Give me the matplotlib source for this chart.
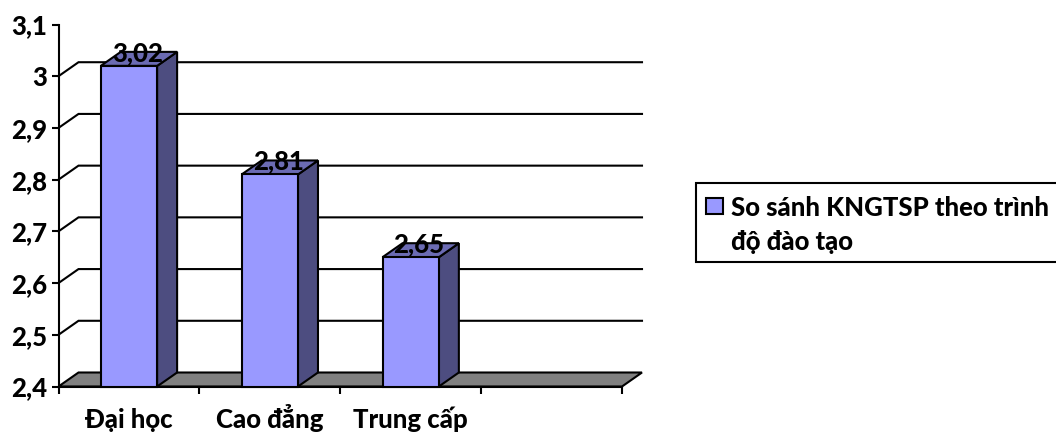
import matplotlib
matplotlib.use('Agg')
import matplotlib.pyplot as plt
from matplotlib.patches import Polygon, Rectangle

plt.rcParams['font.family'] = ['Lato', 'Noto Sans', 'DejaVu Sans']

categories = ['Đại học', 'Cao đẳng', 'Trung cấp']
values = [3.02, 2.81, 2.65]
value_labels = ['3,02', '2,81', '2,65']
y_ticks = [2.4, 2.5, 2.6, 2.7, 2.8, 2.9, 3.0, 3.1]
y_tick_labels = ['2,4', '2,5', '2,6', '2,7', '2,8', '2,9', '3', '3,1']
series_name = 'So sánh KNGTSP theo trình\nđộ đào tạo'

FRONT = '#9999ff'
SIDE = '#4d4d80'
TOP = '#6b6bb3'
FLOOR = '#808080'
LW = 1.5
FS = 18.5
WEIGHT = 900

W, H = 1056, 434
fig = plt.figure(figsize=(W / 100, H / 100), dpi=100)
ax = fig.add_axes([58.5 / W, (H - 386.5) / H, 563.5 / W, 362 / H])
ax.set_xlim(0, 4)
ax.set_ylim(2.4, 3.1)

# 3D look: depth offset of the back wall, in data units
dx = 20 / (563.5 / 4)
dy = 14 / (362 / 0.7)
bar_w = 0.40

# floor
ax.add_patch(Polygon([(0, 2.4), (dx, 2.4 + dy), (4 + dx, 2.4 + dy), (4, 2.4)],
                     fc=FLOOR, ec='black', lw=LW, clip_on=False, zorder=1))

# wall grid lines with the short diagonal from the axis
for t in y_ticks[1:-1]:
    ax.plot([0, dx, 4 + dx], [t, t + dy, t + dy], color='black', lw=LW,
            clip_on=False, zorder=1, solid_joinstyle='miter')

# bars
xpos = [i + 0.5 for i in range(len(values))]
ax.bar(xpos, [v - 2.4 for v in values], bottom=2.4, width=bar_w, color=FRONT,
       edgecolor='black', linewidth=LW, zorder=3, clip_on=False)
for x, v, lab in zip(xpos, values, value_labels):
    l, r = x - bar_w / 2, x + bar_w / 2
    ax.add_patch(Polygon([(r, 2.4), (r + dx, 2.4 + dy), (r + dx, v + dy), (r, v)],
                         fc=SIDE, ec='black', lw=LW, clip_on=False, zorder=2))
    ax.add_patch(Polygon([(l, v), (l + dx, v + dy), (r + dx, v + dy), (r, v)],
                         fc=TOP, ec='black', lw=LW, clip_on=False, zorder=2))
    ax.text(x + 0.06, v + 0.0255, lab, ha='center', va='center', fontsize=FS,
            fontweight=WEIGHT, color='black', zorder=4, clip_on=False)

for s in ['top', 'right']:
    ax.spines[s].set_visible(False)
for s in ['left', 'bottom']:
    ax.spines[s].set_linewidth(LW)
    ax.spines[s].set_zorder(2)

ax.set_yticks(y_ticks)
ax.set_yticklabels(y_tick_labels, fontsize=FS, fontweight=WEIGHT)
ax.tick_params(axis='y', length=5, width=LW, pad=3)

ax.set_xticks([0, 1, 2, 3, 4])
ax.set_xticklabels([])
ax.tick_params(axis='x', which='major', length=5, width=LW)
ax.set_xticks(xpos, minor=True)
ax.set_xticklabels(categories, minor=True, fontsize=FS, fontweight=WEIGHT, va='baseline')
ax.tick_params(axis='x', which='minor', length=0, pad=30)

# legend box runs off the right edge
fig.add_artist(Rectangle((696 / W, (H - 262) / H), 400 / W, 79 / H, fc='white',
                         ec='black', lw=LW, transform=fig.transFigure))
fig.add_artist(Rectangle((706 / W, (H - 214) / H), 17 / W, 16 / H, fc=FRONT,
                         ec='black', lw=LW, transform=fig.transFigure))
fig.text(731 / W, (H - 225) / H, series_name, ha='left', va='center',
         fontsize=FS, fontweight=WEIGHT, linespacing=1.5)

fig.savefig('out.png', dpi=100)
